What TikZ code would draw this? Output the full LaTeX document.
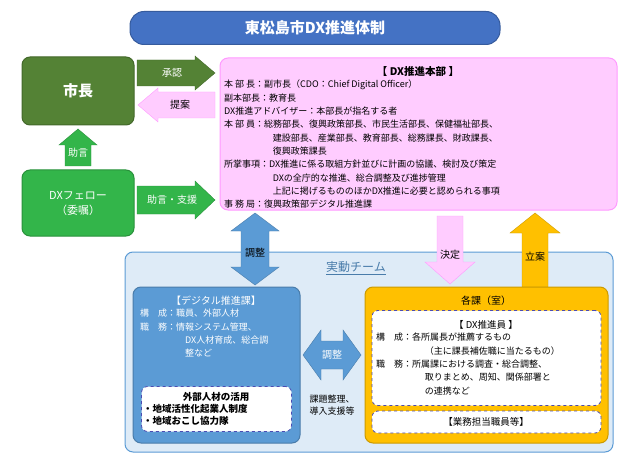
\documentclass[tikz,border=0pt]{standalone}
\usepackage{fontspec}
\setmainfont{Noto Sans CJK JP}
\usetikzlibrary{positioning}
\definecolor{titleblue}{HTML}{4472C4}
\definecolor{mayorgreen}{HTML}{548235}
\definecolor{fellowgreen}{HTML}{33B54A}
\definecolor{arrowgreen}{HTML}{548235}
\definecolor{hqpink}{HTML}{FFCCFF}
\definecolor{hqedge}{HTML}{FF99FF}
\definecolor{teambg}{HTML}{DEEBF7}
\definecolor{teamedge}{HTML}{5B9BD5}
\definecolor{digblue}{HTML}{5B9BD5}
\definecolor{deptorange}{HTML}{FFC000}
% block arrows: style, tail, tip, centre, half shaft, half head, head length (signed)
\newcommand{\harrow}[7]{\draw[#1] ({#2},{#4-#5}) -- ({#3-#7},{#4-#5}) -- ({#3-#7},{#4-#6}) -- ({#3},{#4})
  -- ({#3-#7},{#4+#6}) -- ({#3-#7},{#4+#5}) -- ({#2},{#4+#5}) -- cycle;}
\newcommand{\varrow}[7]{\draw[#1] ({#4-#5},{#2}) -- ({#4-#5},{#3-#7}) -- ({#4-#6},{#3-#7}) -- ({#4},{#3})
  -- ({#4+#6},{#3-#7}) -- ({#4+#5},{#3-#7}) -- ({#4+#5},{#2}) -- cycle;}
% double block arrows: style, end1, end2, centre, half shaft, half head, head length
\newcommand{\hdarrow}[7]{\draw[#1] ({#2},{#4}) -- ({#2+#7},{#4-#6}) -- ({#2+#7},{#4-#5}) -- ({#3-#7},{#4-#5}) -- ({#3-#7},{#4-#6})
  -- ({#3},{#4}) -- ({#3-#7},{#4+#6}) -- ({#3-#7},{#4+#5}) -- ({#2+#7},{#4+#5}) -- ({#2+#7},{#4+#6}) -- cycle;}
\newcommand{\vdarrow}[7]{\draw[#1] ({#4},{#2}) -- ({#4-#6},{#2+#7}) -- ({#4-#5},{#2+#7}) -- ({#4-#5},{#3-#7}) -- ({#4-#6},{#3-#7})
  -- ({#4},{#3}) -- ({#4+#6},{#3-#7}) -- ({#4+#5},{#3-#7}) -- ({#4+#5},{#2+#7}) -- ({#4+#6},{#2+#7}) -- cycle;}
\tikzset{
  box/.style={draw, rounded corners=8pt, line width=1pt},
  alabel/.style={font=\fontsize{10}{11}\selectfont, inner sep=1pt},
  dashbox/.style={draw=gray!60!blue, dashed, fill=white, rounded corners=6pt, line width=0.8pt},
  txt/.style={align=left, anchor=north west, inner sep=0pt, font=\fontsize{9}{13.3}\selectfont},
}
\begin{document}
\begin{tikzpicture}[x=1pt, y=-1pt]
\useasboundingbox (0,0) rectangle (639,457);
% title
\node[box, draw=titleblue!80!black, fill=titleblue, rounded corners=14pt, minimum width=370pt, minimum height=33pt,
  text=white, font=\fontsize{15}{15}\bfseries\selectfont] (title) at (315,28) {東松島市DX推進体制};
% left column
\node[box, draw=mayorgreen!80!black, fill=mayorgreen, minimum width=112pt, minimum height=68pt,
  text=white, font=\fontsize{15}{15}\bfseries\selectfont] (mayor) at (78,91) {市長};
\node[box, draw=fellowgreen!80!black, fill=fellowgreen, minimum width=112pt, minimum height=66pt,
  text=white, align=center, font=\fontsize{11}{15}\selectfont] (fellow) at (78,203) {DXフェロー\\（委嘱）};
\varrow{fill=fellowgreen, draw=fellowgreen!80!black}{166}{129}{78}{13}{19}{-16}
\node[alabel, text=white] (advice) at (78,153) {助言};
% headquarters
\node[box, draw=hqedge, fill=hqpink, minimum width=397pt, minimum height=152pt] (hq) at (418.5,134) {};
\node[font=\fontsize{10.5}{12}\bfseries\selectfont] (hqtitle) at (418,72) {【 DX推進本部 】};
\node[txt] (hqtext) at (224,80) {本 部 長：副市長（CDO：Chief Digital Officer）\\
副本部長：教育長\\
DX推進アドバイザー：本部長が指名する者\\
本 部 員：総務部長、復興政策部長、市民生活部長、保健福祉部長、\\
\hspace{5.4em}建設部長、産業部長、教育部長、総務課長、財政課長、\\
\hspace{5.4em}復興政策課長\\
所掌事項：DX推進に係る取組方針並びに計画の協議、検討及び策定\\
\hspace{5.4em}DXの全庁的な推進、総合調整及び進捗管理\\
\hspace{5.4em}上記に掲げるもののほかDX推進に必要と認められる事項\\
事 務 局：復興政策部デジタル推進課};
% arrows between left and hq
\harrow{fill=arrowgreen, draw=arrowgreen!80!black}{137}{215}{73}{13}{17}{20}
\node[alabel, text=white] (approve) at (172,73) {承認};
\harrow{fill=hqpink, draw=hqedge}{215}{138}{105}{13}{17}{-20}
\node[alabel] (propose) at (180,105) {提案};
\harrow{fill=fellowgreen, draw=fellowgreen!80!black}{137}{215}{200}{14}{19}{20}
\node[alabel, text=white] (support) at (172,200) {助言・支援};
% team
\node[box, draw=teamedge, fill=teambg, minimum width=488pt, minimum height=200pt] (team) at (369,352) {};
\node[text=teamedge!80!black, font=\fontsize{12}{12}\selectfont] (teamlabel) at (356,268) {\underline{実動チーム}};
% arrows into team
\vdarrow{fill=digblue, draw=digblue!80!black}{213}{285}{255}{14}{24}{18}
\node[alabel] (coordv) at (255,253) {調整};
\varrow{fill=hqpink, draw=hqedge}{216}{284}{450}{13}{25}{22}
\node[alabel] (decide) at (450,255) {決定};
\varrow{fill=deptorange, draw=deptorange!80!black}{287}{213}{535}{13}{25}{-20}
\node[alabel] (plan) at (535,257) {立案};
% digital section
\node[box, draw=digblue!80!black, fill=digblue, minimum width=167pt, minimum height=156pt] (dig) at (216.5,365) {};
\node[text=white, font=\fontsize{10}{12}\selectfont] (digtitle) at (216,301) {【デジタル推進課】};
\node[txt, text=white] (digtext) at (140,309) {構\hspace{1em}成：職員、外部人材\\
職\hspace{1em}務：情報システム管理、\\
\hspace{5em}DX人材育成、総合調\\
\hspace{5em}整など};
\node[dashbox, minimum width=150pt, minimum height=45pt] (ext) at (216.5,409) {};
\node[font=\fontsize{9.5}{12}\bfseries\selectfont] (exttitle) at (216,397) {外部人材の活用};
\node[txt, font=\fontsize{9.5}{12.5}\bfseries\selectfont] (exttext) at (143,404) {・地域活性化起業人制度\\・地域おこし協力隊};
% horizontal coordinate arrow
\hdarrow{fill=digblue, draw=digblue!80!black}{303}{361}{355}{14}{25}{18}
\node[alabel, text=white] (coordh) at (332,355) {調整};
\node[align=left, font=\fontsize{9}{12.5}\selectfont] (coordhl) at (332,405) {課題整理、\\導入支援等};
% departments
\node[box, draw=deptorange!80!black, fill=deptorange, minimum width=243pt, minimum height=156pt] (dept) at (486.5,365) {};
\node[font=\fontsize{10}{12}\selectfont] (depttitle) at (486,301) {各課（室）};
\node[dashbox, minimum width=229pt, minimum height=95pt] (prom) at (486.5,358) {};
\node[font=\fontsize{9.5}{12}\selectfont] (promtitle) at (486,325) {【 DX推進員 】};
\node[txt] (promtext) at (376,333) {構\hspace{1em}成：各所属長が推薦するもの\\
\hspace{5.4em}（主に課長補佐職に当たるもの）\\
職\hspace{1em}務：所属課における調査・総合調整、\\
\hspace{5.4em}取りまとめ、周知、関係部署と\\
\hspace{5.4em}の連携など};
\node[dashbox, minimum width=229pt, minimum height=22pt] (staff) at (486.5,422) {};
\node[font=\fontsize{9.5}{12}\selectfont] (stafftitle) at (486,422) {【業務担当職員等】};
\end{tikzpicture}
\end{document}
